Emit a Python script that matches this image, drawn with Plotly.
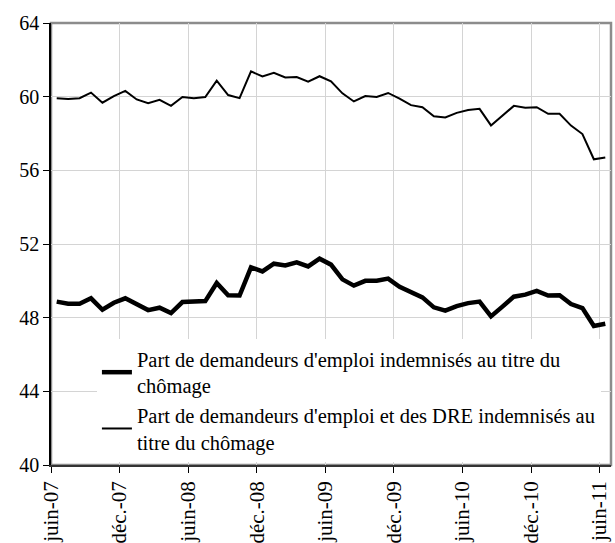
import plotly.graph_objects as go

months = list(range(49))
tick_labels = ["juin-07", "déc.-07", "juin-08", "déc.-08", "juin-09",
               "déc.-09", "juin-10", "déc.-10", "juin-11"]

indemnises = [48.87, 48.76, 48.76, 49.05, 48.43, 48.81, 49.05, 48.72, 48.41, 48.54,
              48.25, 48.85, 48.87, 48.90, 49.88, 49.21, 49.20, 50.73, 50.51, 50.93,
              50.84, 51.00, 50.78, 51.20, 50.88, 50.08, 49.74, 50.00, 50.00, 50.12,
              49.68, 49.36, 49.10, 48.56, 48.38, 48.63, 48.79, 48.87, 48.07, 48.60,
              49.14, 49.25, 49.45, 49.20, 49.22, 48.74, 48.52, 47.55, 47.67]

indemnises_dre = [59.92, 59.88, 59.92, 60.22, 59.67, 60.03, 60.31, 59.85, 59.65, 59.83,
                  59.50, 59.98, 59.92, 59.98, 60.87, 60.09, 59.92, 61.37, 61.10, 61.30,
                  61.04, 61.07, 60.82, 61.11, 60.83, 60.18, 59.74, 60.03, 59.98, 60.20,
                  59.89, 59.54, 59.43, 58.94, 58.87, 59.12, 59.27, 59.34, 58.44, 58.96,
                  59.50, 59.40, 59.43, 59.07, 59.07, 58.43, 57.97, 56.60, 56.70]

name1 = "Part de demandeurs d'emploi indemnisés au titre du<br>chômage"
name2 = "Part de demandeurs d'emploi et des DRE indemnisés au<br>titre du chômage"

font = "Liberation Serif, Times New Roman, serif"

fig = go.Figure()
fig.add_trace(go.Scatter(x=months, y=indemnises, mode="lines", name=name1,
                         line=dict(color="black", width=4.5)))
fig.add_trace(go.Scatter(x=months, y=indemnises_dre, mode="lines", name=name2,
                         line=dict(color="black", width=2)))

tickvals = [i * 6 - 0.5 for i in range(len(tick_labels))]

fig.update_layout(
    width=615, height=543,
    margin=dict(l=51, r=4, t=23, b=78),
    paper_bgcolor="white", plot_bgcolor="white",
    font=dict(family=font, size=20, color="black"),
    showlegend=True,
    legend=dict(x=0.082, y=0.285, xanchor="left", yanchor="top",
                bgcolor="white", font=dict(family=font, size=20.5),
                tracegroupgap=0, itemwidth=30),
    xaxis=dict(range=[-0.5, 48.5], tickmode="array", tickvals=tickvals,
               ticktext=tick_labels, tickangle=-90, showgrid=True, automargin=False,
               gridcolor="#d4d4d4", gridwidth=1, showline=True, linecolor="#333333",
               linewidth=1.5, ticks="outside", ticklen=6, tickcolor="black",
               zeroline=False, tickfont=dict(family=font, size=21)),
    yaxis=dict(range=[40, 64], tickmode="array", tickvals=[40, 44, 48, 52, 56, 60, 64],
               showgrid=True, gridcolor="#d4d4d4", gridwidth=1, showline=True,
               automargin=False,
               linecolor="black", linewidth=1.5, ticks="outside", ticklen=6,
               tickcolor="black", zeroline=False, tickfont=dict(family=font, size=20)),
    shapes=[dict(type="rect", xref="paper", yref="paper", x0=0, y0=0, x1=1, y1=1,
                 line=dict(color="#8c8c8c", width=2.5), layer="below")],
)

fig.write_html("out.html", config={"displayModeBar": False},
               post_script="document.body.style.margin='0';document.body.style.overflow='hidden';")
